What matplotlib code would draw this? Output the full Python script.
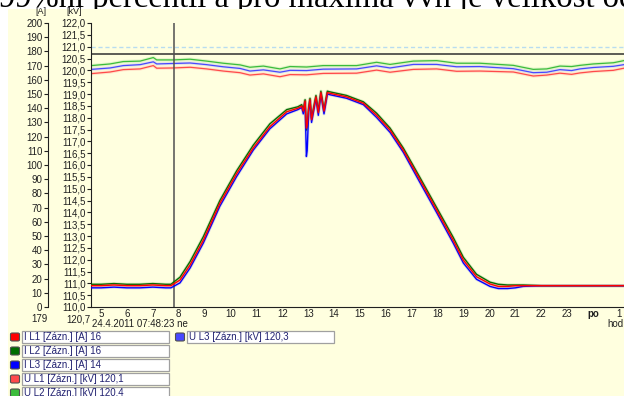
import matplotlib
matplotlib.use("Agg")
import matplotlib.pyplot as plt
from matplotlib.patches import Rectangle, FancyBboxPatch

# ------------------------------------------------------------
# data
# ------------------------------------------------------------

# currents [A] against hour of day
hours_i = [4.6, 5.0, 5.5, 6.0, 6.5, 7.0, 7.5, 7.7, 8.05, 8.44, 8.95, 9.59,
           10.24, 10.88, 11.52, 12.17, 12.60, 12.75, 12.81, 12.88, 12.93, 12.96,
           13.02, 13.07, 13.13, 13.30, 13.39, 13.49, 13.61, 13.74, 13.84, 14.48,
           15.13, 15.64, 16.16, 16.67, 17.32, 17.96, 18.60, 18.99, 19.50, 20.02,
           20.34, 20.70, 21.00, 21.30, 22.0, 23.0, 24.0, 25.2]
i_l1 = [15, 15, 15.5, 15, 15, 15.5, 15, 15, 19, 29.6, 47, 73,
        94, 112, 127, 137.5, 140, 141.5, 138, 145, 126, 128,
        140, 146, 132, 148, 137, 151, 138, 151, 150.5, 148,
        143.5, 135, 124.6, 110.6, 89.4, 68.3, 47, 33, 21.3, 16.2,
        14.5, 14.5, 15, 15, 15, 15, 15, 15]
i_l2 = [16, 16, 16.5, 16, 16, 16.5, 16, 16, 21, 32, 49.5, 75,
        96, 114, 129, 139, 141, 142.5, 139, 146, 124.6, 127,
        141, 147, 133, 149, 138, 152, 139, 152, 151.5, 149,
        144.5, 136.5, 126, 112, 91, 70, 49, 35, 23, 17.5,
        16, 15.5, 15.5, 15.5, 15, 15, 15, 15]
i_l3 = [13.5, 13.5, 14, 13.5, 13.5, 14, 13.5, 13.5, 17, 27.5, 45, 71,
        92, 110.5, 125.5, 136, 139, 140.5, 136, 144, 106, 110,
        138, 145, 130, 147, 135, 150, 136, 150, 149.5, 147,
        142.5, 133.5, 123, 109, 87.5, 66.5, 45, 31, 19.5, 14.5,
        13, 13, 13.5, 14.5, 15, 15, 15, 15]

# voltages [kV]
hours_u = [4.62, 5.35, 5.86, 6.51, 7.02, 7.15, 7.79, 8.44, 9.08, 9.72, 10.37,
           10.75, 11.27, 11.91, 12.30, 12.94, 13.58, 14.87, 15.64, 16.16, 17.06,
           17.96, 18.73, 19.63, 20.92, 21.69, 22.21, 22.72, 23.17, 23.49, 24.01,
           24.78, 25.19]
u_l1 = [119.86, 119.93, 120.03, 120.06, 120.20, 120.09, 120.10, 120.13, 120.06,
        119.97, 119.90, 119.80, 119.85, 119.73, 119.82, 119.81, 119.87, 119.88,
        120.01, 119.92, 120.04, 120.06, 119.96, 119.97, 119.93, 119.76, 119.80,
        119.88, 119.83, 119.89, 119.95, 120.00, 120.09]
u_l2 = [120.20, 120.27, 120.37, 120.39, 120.54, 120.44, 120.44, 120.47, 120.39,
        120.30, 120.23, 120.13, 120.18, 120.06, 120.16, 120.14, 120.20, 120.20,
        120.34, 120.25, 120.39, 120.41, 120.30, 120.30, 120.21, 120.04, 120.06,
        120.18, 120.16, 120.21, 120.27, 120.32, 120.41]
u_l3 = [120.04, 120.10, 120.20, 120.24, 120.36, 120.27, 120.29, 120.31, 120.24,
        120.15, 120.08, 119.97, 120.02, 119.92, 120.00, 119.99, 120.05, 120.06,
        120.19, 120.10, 120.25, 120.25, 120.15, 120.16, 120.07, 119.90, 119.92,
        120.03, 119.99, 120.06, 120.12, 120.17, 120.24]

# cursor and limits
cursor_hour = 7 + 48 / 60 + 23 / 3600
cursor_a = 179
cursor_kv = 120.7
limit_kv = 121.0

hour_ticks = list(range(5, 26))
hour_labels = [str(h) for h in range(5, 24)] + ["po", "1"]

legend_labels = ["I L1 [Zázn.] [A] 16", "I L2 [Zázn.] [A] 16",
                 "I L3 [Zázn.] [A] 14", "U L1 [Zázn.] [kV] 120,1",
                 "U L2 [Zázn.] [kV] 120,4", "U L3 [Zázn.] [kV] 120,3"]
legend_colors = ["#ff0000", "#006e00", "#0000ff", "#ff4a4a", "#3cbc3c", "#4848ff"]

title_text = "99%ní percentil a pro maxima vvn je velikost od"

# ------------------------------------------------------------
W, H = 624, 396
BG = "#ffffdf"
FONT = "Liberation Sans"


def fx(x):
    return x / W


def fy(y):
    return 1 - y / H


fig = plt.figure(figsize=(W / 100, H / 100), dpi=100)
fig.patch.set_facecolor("white")

# document text cut off by the chart window
fig.text(fx(-1), fy(7.5), title_text, family="Liberation Serif", fontsize=23.5,
         va="baseline", ha="left", zorder=-3)
fig.add_artist(Rectangle((fx(8), 0), fx(W - 8), 1 - 9 / H,
                         transform=fig.transFigure, facecolor=BG,
                         edgecolor="none", zorder=-2))

ax = fig.add_axes([fx(91), fy(307), fx(W - 91), (307 - 23) / H])
ax.set_facecolor("none")
ax.set_xlim(5 + (91 - 101) / 25.9, 5 + (W - 101) / 25.9)
ax.set_ylim(110, 122)
for s in ["top", "right"]:
    ax.spines[s].set_visible(False)
ax.spines["left"].set_color("#202020")
ax.spines["bottom"].set_color("#202020")

kv_ticks = [110 + 0.5 * k for k in range(25)]
ax.set_yticks(kv_ticks)
ax.set_yticklabels([f"{v:.1f}".replace(".", ",") for v in kv_ticks])
ax.tick_params(axis="y", length=3, width=0.8, pad=1, labelsize=7,
               colors="#202020")
ax.set_xticks(hour_ticks)
ax.set_xticklabels(hour_labels)
ax.tick_params(axis="x", length=0, pad=1.5, labelsize=7, colors="#202020")
for lab in ax.get_xticklabels():
    lab.set_family(FONT)
    if lab.get_text() == "po":
        lab.set_fontweight("bold")
for lab in ax.get_yticklabels():
    lab.set_family(FONT)

# voltages
for vals, col in [(u_l2, legend_colors[4]), (u_l3, legend_colors[5]),
                  (u_l1, legend_colors[3])]:
    ax.plot(hours_u, vals, color=col, lw=2.4, alpha=0.15)
    ax.plot(hours_u, vals, color=col, lw=0.9)

ax.axhline(limit_kv, color="#b8dcf0", lw=1, ls=(0, (3, 2)))
ax.axhline(cursor_kv, color="#303030", lw=1.1)
ax.axvline(cursor_hour, color="#505050", lw=1.1)

# currents on a second scale
ax2 = ax.twinx()
ax2.set_ylim(0, 200)
ax2.yaxis.set_ticks_position("left")
for s in ["top", "right", "bottom"]:
    ax2.spines[s].set_visible(False)
ax2.spines["left"].set_visible(True)
ax2.spines["left"].set_position(("axes", (48 - 91) / (W - 91)))
ax2.spines["left"].set_color("#202020")
ax2.set_yticks(range(0, 201, 10))
ax2.tick_params(axis="y", length=3, width=0.8, pad=1, labelsize=7,
                colors="#202020")
for lab in ax2.get_yticklabels():
    lab.set_family(FONT)

for vals, col in [(i_l2, legend_colors[1]), (i_l3, legend_colors[2]),
                  (i_l1, legend_colors[0])]:
    ax2.plot(hours_i, vals, color=col, lw=2.2, alpha=0.15)
    ax2.plot(hours_i, vals, color=col, lw=1.0)

# axis captions and cursor readouts
txt = dict(family=FONT, fontsize=6.5, color="#202020")
fig.text(fx(41), fy(12), "[A]", ha="center", va="center", **txt)
fig.text(fx(74), fy(12), "[kV]", ha="center", va="center", **txt)
txt["fontsize"] = 7
fig.text(fx(48), fy(319), str(cursor_a), ha="right", va="center", **txt)
fig.text(fx(90), fy(319), f"{cursor_kv:.1f}".replace(".", ","),
         ha="right", va="center", **txt)
fig.text(fx(92), fy(324), "24.4.2011 07:48:23 ne", ha="left", va="center",
         **txt)
fig.text(fx(607), fy(324), "hod.", ha="left", va="center", **txt)

# legend boxes
slots = [(10, 337), (10, 351), (10, 365), (10, 379), (10, 393), (175, 337)]
for (x0, yc), lab, col in zip(slots, legend_labels, legend_colors):
    fig.add_artist(FancyBboxPatch((fx(x0 + 0.5), fy(yc + 4)), fx(9), 8 / H,
                                  boxstyle="round,pad=0,rounding_size=0.003",
                                  transform=fig.transFigure, facecolor=col,
                                  edgecolor="#505050", lw=0.8))
    fig.add_artist(Rectangle((fx(x0 + 11.5), fy(yc + 6)), fx(147), 12 / H,
                             transform=fig.transFigure, facecolor="white",
                             edgecolor="#a0a0a0", lw=0.9))
    fig.text(fx(x0 + 14), fy(yc), lab, ha="left", va="center",
             family=FONT, fontsize=7, color="#202070")

fig.savefig("out.png", dpi=100)
